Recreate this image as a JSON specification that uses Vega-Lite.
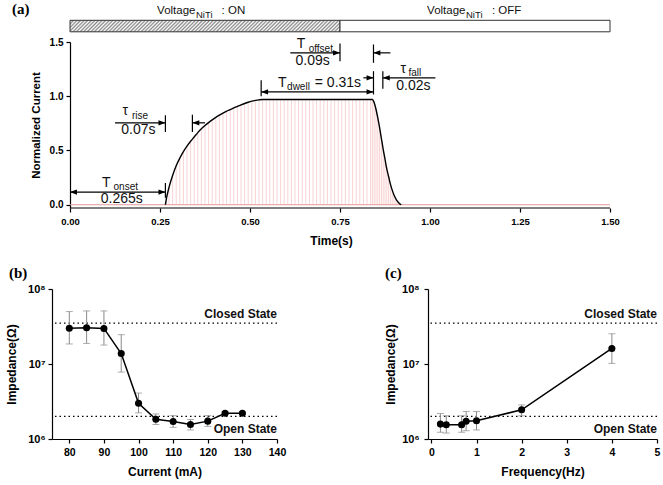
{
  "$schema": "https://vega.github.io/schema/vega-lite/v6.json",
  "padding": {"left": 5, "top": 2, "right": 5, "bottom": 5},
  "background": "white",
  "bounds": "flush",
  "spacing": 81,
  "config": {
    "view": {"stroke": null},
    "font": "Liberation Sans",
    "axis": {"grid": false, "domainColor": "#000", "tickColor": "#000", "labelColor": "#000", "titleColor": "#000", "labelFontWeight": "bold", "titleFontWeight": "bold", "tickSize": 4, "domainWidth": 1.2, "tickWidth": 1.2, "labelFont": "Liberation Sans", "titleFont": "Liberation Sans", "labelFlush": false, "labelOverlap": false},
    "title": {"font": "Liberation Serif", "fontSize": 15, "fontWeight": "bold", "color": "#000", "anchor": "start", "frame": "group"}
  },
  "datasets": {
    "bars": [{"state": "ON", "x0": 0, "x1": 0.75}, {"state": "OFF", "x0": 0.75, "x1": 1.5}],
    "volt": [
      {"x": 0.242, "y": 1.788, "text": "Voltage", "role": "label"},
      {"x": 0.35, "y": 1.752, "text": "NiTi", "role": "sub"},
      {"x": 0.421, "y": 1.788, "text": ": ON", "role": "label"},
      {"x": 0.992, "y": 1.788, "text": "Voltage", "role": "label"},
      {"x": 1.1, "y": 1.752, "text": "NiTi", "role": "sub"},
      {"x": 1.172, "y": 1.788, "text": ": OFF", "role": "label"}
    ],
    "curve": [
      {"t": 0.265, "v": 0}, {"t": 0.268, "v": 0.06}, {"t": 0.275, "v": 0.16}, {"t": 0.285, "v": 0.27}, {"t": 0.295, "v": 0.36},
      {"t": 0.305, "v": 0.43}, {"t": 0.315, "v": 0.49}, {"t": 0.325, "v": 0.54}, {"t": 0.335, "v": 0.585}, {"t": 0.345, "v": 0.625},
      {"t": 0.355, "v": 0.665}, {"t": 0.365, "v": 0.7}, {"t": 0.375, "v": 0.73}, {"t": 0.385, "v": 0.757}, {"t": 0.395, "v": 0.782},
      {"t": 0.405, "v": 0.805}, {"t": 0.415, "v": 0.826}, {"t": 0.425, "v": 0.845}, {"t": 0.435, "v": 0.862}, {"t": 0.445, "v": 0.877},
      {"t": 0.455, "v": 0.892}, {"t": 0.465, "v": 0.906}, {"t": 0.475, "v": 0.92}, {"t": 0.485, "v": 0.933}, {"t": 0.495, "v": 0.945},
      {"t": 0.505, "v": 0.955}, {"t": 0.515, "v": 0.962}, {"t": 0.525, "v": 0.967}, {"t": 0.535, "v": 0.97}, {"t": 0.545, "v": 0.97},
      {"t": 0.555, "v": 0.97}, {"t": 0.565, "v": 0.97}, {"t": 0.575, "v": 0.97}, {"t": 0.585, "v": 0.97}, {"t": 0.595, "v": 0.97},
      {"t": 0.605, "v": 0.97}, {"t": 0.615, "v": 0.97}, {"t": 0.625, "v": 0.97}, {"t": 0.635, "v": 0.97}, {"t": 0.645, "v": 0.97},
      {"t": 0.655, "v": 0.97}, {"t": 0.665, "v": 0.97}, {"t": 0.675, "v": 0.97}, {"t": 0.685, "v": 0.97}, {"t": 0.695, "v": 0.97},
      {"t": 0.705, "v": 0.97}, {"t": 0.715, "v": 0.97}, {"t": 0.725, "v": 0.97}, {"t": 0.735, "v": 0.97}, {"t": 0.745, "v": 0.97},
      {"t": 0.755, "v": 0.97}, {"t": 0.765, "v": 0.97}, {"t": 0.775, "v": 0.97}, {"t": 0.785, "v": 0.97}, {"t": 0.795, "v": 0.97},
      {"t": 0.805, "v": 0.97}, {"t": 0.815, "v": 0.97}, {"t": 0.825, "v": 0.97}, {"t": 0.835, "v": 0.97}, {"t": 0.84, "v": 0.97},
      {"t": 0.845, "v": 0.94}, {"t": 0.85, "v": 0.88}, {"t": 0.855, "v": 0.8}, {"t": 0.86, "v": 0.71}, {"t": 0.865, "v": 0.61},
      {"t": 0.87, "v": 0.51}, {"t": 0.875, "v": 0.42}, {"t": 0.88, "v": 0.33}, {"t": 0.885, "v": 0.26}, {"t": 0.89, "v": 0.19},
      {"t": 0.895, "v": 0.135}, {"t": 0.9, "v": 0.09}, {"t": 0.905, "v": 0.055}, {"t": 0.91, "v": 0.03}, {"t": 0.915, "v": 0.012},
      {"t": 0.92, "v": 0}
    ],
    "segs": [
      {"x": 0, "x2": 0.265, "y": 0.117, "y2": 0.117},
      {"x": 0.265, "x2": 0.265, "y": 0.065, "y2": 0.2},
      {"x": 0.125, "x2": 0.265, "y": 0.755, "y2": 0.755},
      {"x": 0.265, "x2": 0.265, "y": 0.67, "y2": 0.825},
      {"x": 0.34, "x2": 0.34, "y": 0.67, "y2": 0.83},
      {"x": 0.34, "x2": 0.375, "y": 0.755, "y2": 0.755},
      {"x": 0.531, "x2": 0.531, "y": 1.0, "y2": 1.148},
      {"x": 0.531, "x2": 0.843, "y": 1.04, "y2": 1.04},
      {"x": 0.843, "x2": 0.843, "y": 1.016, "y2": 1.231},
      {"x": 0.815, "x2": 0.843, "y": 1.17, "y2": 1.17},
      {"x": 0.869, "x2": 0.869, "y": 1.068, "y2": 1.231},
      {"x": 0.869, "x2": 1.015, "y": 1.17, "y2": 1.17},
      {"x": 0.75, "x2": 0.75, "y": 1.323, "y2": 1.487},
      {"x": 0.612, "x2": 0.75, "y": 1.4, "y2": 1.4},
      {"x": 0.843, "x2": 0.843, "y": 1.308, "y2": 1.477},
      {"x": 0.843, "x2": 0.89, "y": 1.4, "y2": 1.4}
    ],
    "heads": [
      {"x": 0.0095, "y": 0.117, "dir": "left"}, {"x": 0.2555, "y": 0.117, "dir": "right"},
      {"x": 0.2555, "y": 0.755, "dir": "right"}, {"x": 0.3495, "y": 0.755, "dir": "left"},
      {"x": 0.5405, "y": 1.04, "dir": "left"}, {"x": 0.8335, "y": 1.04, "dir": "right"},
      {"x": 0.8335, "y": 1.17, "dir": "right"}, {"x": 0.8785, "y": 1.17, "dir": "left"},
      {"x": 0.7405, "y": 1.4, "dir": "right"}, {"x": 0.8525, "y": 1.4, "dir": "left"}
    ],
    "ann": [
      {"x": 0.089, "y": 0.2, "text": "T", "role": "label"},
      {"x": 0.121, "y": 0.165, "text": "onset", "role": "sub"},
      {"x": 0.144, "y": 0.053, "text": "0.265s", "role": "value"},
      {"x": 0.146, "y": 0.86, "text": "τ", "role": "label"},
      {"x": 0.172, "y": 0.815, "text": "rise", "role": "sub"},
      {"x": 0.19, "y": 0.693, "text": "0.07s", "role": "value"},
      {"x": 0.578, "y": 1.124, "text": "T", "role": "label"},
      {"x": 0.603, "y": 1.087, "text": "dwell", "role": "sub"},
      {"x": 0.68, "y": 1.124, "text": "= 0.31s", "role": "label"},
      {"x": 0.63, "y": 1.477, "text": "T", "role": "label"},
      {"x": 0.663, "y": 1.435, "text": "offset", "role": "sub"},
      {"x": 0.674, "y": 1.323, "text": "0.09s", "role": "value"},
      {"x": 0.918, "y": 1.253, "text": "τ", "role": "label"},
      {"x": 0.94, "y": 1.215, "text": "fall", "role": "sub"},
      {"x": 0.954, "y": 1.092, "text": "0.02s", "role": "value"}
    ],
    "states": [{"state": "Closed State", "imp": 35000000}, {"state": "Open State", "imp": 2000000}],
    "cur": [
      {"current": 80, "imp": 30000000, "lo": 18500000, "hi": 50000000},
      {"current": 85, "imp": 30500000, "lo": 18800000, "hi": 51000000},
      {"current": 90, "imp": 29800000, "lo": 17900000, "hi": 51000000},
      {"current": 95, "imp": 13800000, "lo": 7800000, "hi": 24600000},
      {"current": 100, "imp": 3000000, "lo": 2230000, "hi": 4100000},
      {"current": 105, "imp": 1830000, "lo": 1560000, "hi": 2160000},
      {"current": 110, "imp": 1710000, "lo": 1430000, "hi": 2050000},
      {"current": 115, "imp": 1560000, "lo": 1320000, "hi": 1820000},
      {"current": 120, "imp": 1730000, "lo": 1470000, "hi": 2050000},
      {"current": 125, "imp": 2200000, "lo": 2120000, "hi": 2320000},
      {"current": 130, "imp": 2200000, "lo": 2120000, "hi": 2300000}
    ],
    "freq": [
      {"freq": 0.2, "imp": 1580000, "lo": 1230000, "hi": 2190000},
      {"freq": 0.33, "imp": 1550000, "lo": 1200000, "hi": 2040000},
      {"freq": 0.67, "imp": 1550000, "lo": 1230000, "hi": 2040000},
      {"freq": 0.77, "imp": 1720000, "lo": 1290000, "hi": 2330000},
      {"freq": 1, "imp": 1750000, "lo": 1320000, "hi": 2330000},
      {"freq": 2, "imp": 2450000, "lo": 2040000, "hi": 2850000},
      {"freq": 4, "imp": 16100000, "lo": 10200000, "hi": 25300000}
    ]
  },
  "vconcat": [
    {
      "width": 558,
      "height": 166,
      "title": {"text": "(a)", "dx": -40, "dy": 12.5, "offset": 0},
      "layer": [
        {
          "data": {"name": "curve"},
          "mark": {"type": "rule", "color": "#f2b0b0", "strokeWidth": 0.8, "opacity": 0.7},
          "encoding": {
            "x": {"field": "t", "type": "quantitative", "scale": {"domain": [-0.05, 1.5], "nice": false, "zero": false},
              "axis": {"values": [0, 0.25, 0.5, 0.75, 1, 1.25, 1.5], "format": ".2f", "title": "Time(s)", "domain": false, "labelFontSize": 9.5, "titleFontSize": 12, "labelPadding": 4, "titlePadding": 10}},
            "y": {"field": "v", "type": "quantitative", "scale": {"domain": [-0.03, 1.5], "nice": false, "zero": false},
              "axis": {"values": [0, 0.5, 1, 1.5], "format": ".1f", "offset": -18, "title": "Normalized Current", "labelFontSize": 10, "titleFontSize": 11.5, "labelPadding": 3, "titlePadding": 8}},
            "y2": {"datum": 0}
          }
        },
        {
          "data": {"name": "bars"},
          "transform": [{"filter": "datum.state === 'ON'"}],
          "mark": {"type": "rect", "stroke": "#333", "strokeWidth": 1,
            "fill": {"gradient": "linear", "x1": 0, "y1": 0, "x2": 1.06, "y2": 0.045, "stops": [
              {"offset": 0, "color": "#888"}, {"offset": 0.00625, "color": "#fff"}, {"offset": 0.0125, "color": "#888"}, {"offset": 0.01875, "color": "#fff"},
              {"offset": 0.025, "color": "#888"}, {"offset": 0.03125, "color": "#fff"}, {"offset": 0.0375, "color": "#888"}, {"offset": 0.04375, "color": "#fff"},
              {"offset": 0.05, "color": "#888"}, {"offset": 0.05625, "color": "#fff"}, {"offset": 0.0625, "color": "#888"}, {"offset": 0.06875, "color": "#fff"},
              {"offset": 0.075, "color": "#888"}, {"offset": 0.08125, "color": "#fff"}, {"offset": 0.0875, "color": "#888"}, {"offset": 0.09375, "color": "#fff"},
              {"offset": 0.1, "color": "#888"}, {"offset": 0.10625, "color": "#fff"}, {"offset": 0.1125, "color": "#888"}, {"offset": 0.11875, "color": "#fff"},
              {"offset": 0.125, "color": "#888"}, {"offset": 0.13125, "color": "#fff"}, {"offset": 0.1375, "color": "#888"}, {"offset": 0.14375, "color": "#fff"},
              {"offset": 0.15, "color": "#888"}, {"offset": 0.15625, "color": "#fff"}, {"offset": 0.1625, "color": "#888"}, {"offset": 0.16875, "color": "#fff"},
              {"offset": 0.175, "color": "#888"}, {"offset": 0.18125, "color": "#fff"}, {"offset": 0.1875, "color": "#888"}, {"offset": 0.19375, "color": "#fff"},
              {"offset": 0.2, "color": "#888"}, {"offset": 0.20625, "color": "#fff"}, {"offset": 0.2125, "color": "#888"}, {"offset": 0.21875, "color": "#fff"},
              {"offset": 0.225, "color": "#888"}, {"offset": 0.23125, "color": "#fff"}, {"offset": 0.2375, "color": "#888"}, {"offset": 0.24375, "color": "#fff"},
              {"offset": 0.25, "color": "#888"}, {"offset": 0.25625, "color": "#fff"}, {"offset": 0.2625, "color": "#888"}, {"offset": 0.26875, "color": "#fff"},
              {"offset": 0.275, "color": "#888"}, {"offset": 0.28125, "color": "#fff"}, {"offset": 0.2875, "color": "#888"}, {"offset": 0.29375, "color": "#fff"},
              {"offset": 0.3, "color": "#888"}, {"offset": 0.30625, "color": "#fff"}, {"offset": 0.3125, "color": "#888"}, {"offset": 0.31875, "color": "#fff"},
              {"offset": 0.325, "color": "#888"}, {"offset": 0.33125, "color": "#fff"}, {"offset": 0.3375, "color": "#888"}, {"offset": 0.34375, "color": "#fff"},
              {"offset": 0.35, "color": "#888"}, {"offset": 0.35625, "color": "#fff"}, {"offset": 0.3625, "color": "#888"}, {"offset": 0.36875, "color": "#fff"},
              {"offset": 0.375, "color": "#888"}, {"offset": 0.38125, "color": "#fff"}, {"offset": 0.3875, "color": "#888"}, {"offset": 0.39375, "color": "#fff"},
              {"offset": 0.4, "color": "#888"}, {"offset": 0.40625, "color": "#fff"}, {"offset": 0.4125, "color": "#888"}, {"offset": 0.41875, "color": "#fff"},
              {"offset": 0.425, "color": "#888"}, {"offset": 0.43125, "color": "#fff"}, {"offset": 0.4375, "color": "#888"}, {"offset": 0.44375, "color": "#fff"},
              {"offset": 0.45, "color": "#888"}, {"offset": 0.45625, "color": "#fff"}, {"offset": 0.4625, "color": "#888"}, {"offset": 0.46875, "color": "#fff"},
              {"offset": 0.475, "color": "#888"}, {"offset": 0.48125, "color": "#fff"}, {"offset": 0.4875, "color": "#888"}, {"offset": 0.49375, "color": "#fff"},
              {"offset": 0.5, "color": "#888"}, {"offset": 0.50625, "color": "#fff"}, {"offset": 0.5125, "color": "#888"}, {"offset": 0.51875, "color": "#fff"},
              {"offset": 0.525, "color": "#888"}, {"offset": 0.53125, "color": "#fff"}, {"offset": 0.5375, "color": "#888"}, {"offset": 0.54375, "color": "#fff"},
              {"offset": 0.55, "color": "#888"}, {"offset": 0.55625, "color": "#fff"}, {"offset": 0.5625, "color": "#888"}, {"offset": 0.56875, "color": "#fff"},
              {"offset": 0.575, "color": "#888"}, {"offset": 0.58125, "color": "#fff"}, {"offset": 0.5875, "color": "#888"}, {"offset": 0.59375, "color": "#fff"},
              {"offset": 0.6, "color": "#888"}, {"offset": 0.60625, "color": "#fff"}, {"offset": 0.6125, "color": "#888"}, {"offset": 0.61875, "color": "#fff"},
              {"offset": 0.625, "color": "#888"}, {"offset": 0.63125, "color": "#fff"}, {"offset": 0.6375, "color": "#888"}, {"offset": 0.64375, "color": "#fff"},
              {"offset": 0.65, "color": "#888"}, {"offset": 0.65625, "color": "#fff"}, {"offset": 0.6625, "color": "#888"}, {"offset": 0.66875, "color": "#fff"},
              {"offset": 0.675, "color": "#888"}, {"offset": 0.68125, "color": "#fff"}, {"offset": 0.6875, "color": "#888"}, {"offset": 0.69375, "color": "#fff"},
              {"offset": 0.7, "color": "#888"}, {"offset": 0.70625, "color": "#fff"}, {"offset": 0.7125, "color": "#888"}, {"offset": 0.71875, "color": "#fff"},
              {"offset": 0.725, "color": "#888"}, {"offset": 0.73125, "color": "#fff"}, {"offset": 0.7375, "color": "#888"}, {"offset": 0.74375, "color": "#fff"},
              {"offset": 0.75, "color": "#888"}, {"offset": 0.75625, "color": "#fff"}, {"offset": 0.7625, "color": "#888"}, {"offset": 0.76875, "color": "#fff"},
              {"offset": 0.775, "color": "#888"}, {"offset": 0.78125, "color": "#fff"}, {"offset": 0.7875, "color": "#888"}, {"offset": 0.79375, "color": "#fff"},
              {"offset": 0.8, "color": "#888"}, {"offset": 0.80625, "color": "#fff"}, {"offset": 0.8125, "color": "#888"}, {"offset": 0.81875, "color": "#fff"},
              {"offset": 0.825, "color": "#888"}, {"offset": 0.83125, "color": "#fff"}, {"offset": 0.8375, "color": "#888"}, {"offset": 0.84375, "color": "#fff"},
              {"offset": 0.85, "color": "#888"}, {"offset": 0.85625, "color": "#fff"}, {"offset": 0.8625, "color": "#888"}, {"offset": 0.86875, "color": "#fff"},
              {"offset": 0.875, "color": "#888"}, {"offset": 0.88125, "color": "#fff"}, {"offset": 0.8875, "color": "#888"}, {"offset": 0.89375, "color": "#fff"},
              {"offset": 0.9, "color": "#888"}, {"offset": 0.90625, "color": "#fff"}, {"offset": 0.9125, "color": "#888"}, {"offset": 0.91875, "color": "#fff"},
              {"offset": 0.925, "color": "#888"}, {"offset": 0.93125, "color": "#fff"}, {"offset": 0.9375, "color": "#888"}, {"offset": 0.94375, "color": "#fff"},
              {"offset": 0.95, "color": "#888"}, {"offset": 0.95625, "color": "#fff"}, {"offset": 0.9625, "color": "#888"}, {"offset": 0.96875, "color": "#fff"},
              {"offset": 0.975, "color": "#888"}, {"offset": 0.98125, "color": "#fff"}, {"offset": 0.9875, "color": "#888"}, {"offset": 0.99375, "color": "#fff"},
              {"offset": 1, "color": "#888"}
            ]}},
          "encoding": {
            "x": {"field": "x0", "type": "quantitative"},
            "x2": {"field": "x1"},
            "y": {"datum": 1.594, "type": "quantitative"},
            "y2": {"datum": 1.7}
          }
        },
        {
          "data": {"name": "bars"},
          "transform": [{"filter": "datum.state === 'OFF'"}],
          "mark": {"type": "rect", "stroke": "#333", "strokeWidth": 1, "fill": "#fff"},
          "encoding": {
            "x": {"field": "x0", "type": "quantitative"},
            "x2": {"field": "x1"},
            "y": {"datum": 1.594, "type": "quantitative"},
            "y2": {"datum": 1.7}
          }
        },
        {
          "data": {"name": "volt"},
          "transform": [{"filter": "datum.role === 'label'"}],
          "mark": {"type": "text", "fontSize": 11.5, "align": "left", "baseline": "middle", "color": "#111"},
          "encoding": {
            "x": {"field": "x", "type": "quantitative"},
            "y": {"field": "y", "type": "quantitative"},
            "text": {"field": "text"}
          }
        },
        {
          "data": {"name": "volt"},
          "transform": [{"filter": "datum.role === 'sub'"}],
          "mark": {"type": "text", "fontSize": 9.5, "align": "left", "baseline": "middle", "color": "#111"},
          "encoding": {
            "x": {"field": "x", "type": "quantitative"},
            "y": {"field": "y", "type": "quantitative"},
            "text": {"field": "text"}
          }
        },
        {
          "data": {"values": [{"baseline": 0}]},
          "mark": {"type": "rule", "color": "#e39a9a", "strokeWidth": 1},
          "encoding": {
            "x": {"datum": 0, "type": "quantitative"},
            "x2": {"datum": 1.5},
            "y": {"datum": 0, "type": "quantitative"}
          }
        },
        {
          "data": {"values": [{"axisline": 0}]},
          "mark": {"type": "rule", "color": "#000", "strokeWidth": 1.2},
          "encoding": {
            "x": {"datum": 0, "type": "quantitative"},
            "x2": {"datum": 1.5},
            "y": {"datum": -0.03, "type": "quantitative"}
          }
        },
        {
          "data": {"name": "curve"},
          "mark": {"type": "line", "color": "#000", "strokeWidth": 1.4, "interpolate": "monotone"},
          "encoding": {
            "x": {"field": "t", "type": "quantitative"},
            "y": {"field": "v", "type": "quantitative"}
          }
        },
        {
          "data": {"name": "segs"},
          "mark": {"type": "rule", "color": "#000", "strokeWidth": 1.2},
          "encoding": {
            "x": {"field": "x", "type": "quantitative"},
            "x2": {"field": "x2"},
            "y": {"field": "y", "type": "quantitative"},
            "y2": {"field": "y2"}
          }
        },
        {
          "data": {"name": "heads"},
          "mark": {"type": "point", "filled": true, "color": "#000", "size": 49, "opacity": 1},
          "encoding": {
            "x": {"field": "x", "type": "quantitative"},
            "y": {"field": "y", "type": "quantitative"},
            "shape": {"field": "dir", "type": "nominal", "scale": {"domain": ["left", "right"], "range": ["M1,-0.75L-1,0L1,0.75Z", "M-1,-0.75L1,0L-1,0.75Z"]}, "legend": null}
          }
        },
        {
          "data": {"name": "ann"},
          "transform": [{"filter": "datum.role === 'label'"}],
          "mark": {"type": "text", "fontSize": 14, "align": "left", "baseline": "middle", "color": "#111"},
          "encoding": {
            "x": {"field": "x", "type": "quantitative"},
            "y": {"field": "y", "type": "quantitative"},
            "text": {"field": "text"}
          }
        },
        {
          "data": {"name": "ann"},
          "transform": [{"filter": "datum.role === 'sub'"}],
          "mark": {"type": "text", "fontSize": 10, "align": "left", "baseline": "middle", "color": "#111"},
          "encoding": {
            "x": {"field": "x", "type": "quantitative"},
            "y": {"field": "y", "type": "quantitative"},
            "text": {"field": "text"}
          }
        },
        {
          "data": {"name": "ann"},
          "transform": [{"filter": "datum.role === 'value'"}],
          "mark": {"type": "text", "fontSize": 14, "align": "center", "baseline": "middle", "color": "#111"},
          "encoding": {
            "x": {"field": "x", "type": "quantitative"},
            "y": {"field": "y", "type": "quantitative"},
            "text": {"field": "text"}
          }
        }
      ]
    },
    {
      "bounds": "flush",
      "spacing": 151,
      "hconcat": [
        {
          "width": 225,
          "height": 150,
          "title": {"text": "(b)", "dx": -43, "offset": 2},
          "layer": [
            {
              "data": {"name": "states"},
              "mark": {"type": "rule", "color": "#000", "strokeWidth": 1.3, "strokeDash": [1.5, 3]},
              "encoding": {
                "y": {"field": "imp", "type": "quantitative", "scale": {"type": "log", "domain": [1000000, 100000000], "nice": false},
                  "axis": {"values": [1000000, 10000000, 100000000], "labelExpr": "datum.value >= 50000000 ? '10⁸' : datum.value >= 5000000 ? '10⁷' : '10⁶'", "title": "Impedance(Ω)", "titleFontSize": 12, "labelFontSize": 11, "labelPadding": 3, "titlePadding": 9}}
              }
            },
            {
              "data": {"name": "states"},
              "transform": [{"filter": "datum.state === 'Closed State'"}],
              "mark": {"type": "text", "fontSize": 12, "fontWeight": "bold", "align": "right", "baseline": "middle", "dy": -9, "color": "#111"},
              "encoding": {
                "x": {"datum": 140, "type": "quantitative", "scale": {"domain": [75, 140], "nice": false, "zero": false},
                  "axis": {"values": [80, 90, 100, 110, 120, 130, 140], "labelOverlap": false, "title": "Current (mA)", "titleFontSize": 12, "labelFontSize": 10.5, "labelPadding": 4, "titlePadding": 9}},
                "y": {"field": "imp", "type": "quantitative"},
                "text": {"field": "state"}
              }
            },
            {
              "data": {"name": "states"},
              "transform": [{"filter": "datum.state === 'Open State'"}],
              "mark": {"type": "text", "fontSize": 12, "fontWeight": "bold", "align": "right", "baseline": "middle", "dy": 12.5, "color": "#111"},
              "encoding": {
                "x": {"datum": 140, "type": "quantitative", "scale": {"domain": [75, 140], "nice": false, "zero": false},
                  "axis": {"values": [80, 90, 100, 110, 120, 130, 140], "labelOverlap": false, "title": "Current (mA)", "titleFontSize": 12, "labelFontSize": 10.5, "labelPadding": 4, "titlePadding": 9}},
                "y": {"field": "imp", "type": "quantitative"},
                "text": {"field": "state"}
              }
            },
            {
              "data": {"name": "cur"},
              "mark": {"type": "rule", "color": "#8a8a8a", "strokeWidth": 1},
              "encoding": {
                "x": {"field": "current", "type": "quantitative", "scale": {"domain": [75, 140], "nice": false, "zero": false},
                  "axis": {"values": [80, 90, 100, 110, 120, 130, 140], "labelOverlap": false, "title": "Current (mA)", "titleFontSize": 12, "labelFontSize": 10.5, "labelPadding": 4, "titlePadding": 9}},
                "y": {"field": "lo", "type": "quantitative"},
                "y2": {"field": "hi"}
              }
            },
            {
              "data": {"name": "cur"},
              "mark": {"type": "tick", "orient": "horizontal", "size": 7, "thickness": 1, "color": "#8a8a8a"},
              "encoding": {
                "x": {"field": "current", "type": "quantitative", "scale": {"domain": [75, 140], "nice": false, "zero": false},
                  "axis": {"values": [80, 90, 100, 110, 120, 130, 140], "labelOverlap": false, "title": "Current (mA)", "titleFontSize": 12, "labelFontSize": 10.5, "labelPadding": 4, "titlePadding": 9}},
                "y": {"field": "lo", "type": "quantitative"}
              }
            },
            {
              "data": {"name": "cur"},
              "mark": {"type": "tick", "orient": "horizontal", "size": 7, "thickness": 1, "color": "#8a8a8a"},
              "encoding": {
                "x": {"field": "current", "type": "quantitative", "scale": {"domain": [75, 140], "nice": false, "zero": false},
                  "axis": {"values": [80, 90, 100, 110, 120, 130, 140], "labelOverlap": false, "title": "Current (mA)", "titleFontSize": 12, "labelFontSize": 10.5, "labelPadding": 4, "titlePadding": 9}},
                "y": {"field": "hi", "type": "quantitative"}
              }
            },
            {
              "data": {"name": "cur"},
              "mark": {"type": "line", "color": "#000", "strokeWidth": 1.5},
              "encoding": {
                "x": {"field": "current", "type": "quantitative", "scale": {"domain": [75, 140], "nice": false, "zero": false},
                  "axis": {"values": [80, 90, 100, 110, 120, 130, 140], "labelOverlap": false, "title": "Current (mA)", "titleFontSize": 12, "labelFontSize": 10.5, "labelPadding": 4, "titlePadding": 9}},
                "y": {"field": "imp", "type": "quantitative"}
              }
            },
            {
              "data": {"name": "cur"},
              "mark": {"type": "point", "filled": true, "color": "#000", "size": 50, "opacity": 1},
              "encoding": {
                "x": {"field": "current", "type": "quantitative", "scale": {"domain": [75, 140], "nice": false, "zero": false},
                  "axis": {"values": [80, 90, 100, 110, 120, 130, 140], "labelOverlap": false, "title": "Current (mA)", "titleFontSize": 12, "labelFontSize": 10.5, "labelPadding": 4, "titlePadding": 9}},
                "y": {"field": "imp", "type": "quantitative"}
              }
            }
          ]
        },
        {
          "width": 229,
          "height": 150,
          "title": {"text": "(c)", "dx": -43, "offset": 2},
          "layer": [
            {
              "data": {"name": "states"},
              "mark": {"type": "rule", "color": "#000", "strokeWidth": 1.3, "strokeDash": [1.5, 3]},
              "encoding": {
                "y": {"field": "imp", "type": "quantitative", "scale": {"type": "log", "domain": [1000000, 100000000], "nice": false},
                  "axis": {"values": [1000000, 10000000, 100000000], "labelExpr": "datum.value >= 50000000 ? '10⁸' : datum.value >= 5000000 ? '10⁷' : '10⁶'", "title": "Impedance(Ω)", "titleFontSize": 12, "labelFontSize": 11, "labelPadding": 5, "titlePadding": 4}}
              }
            },
            {
              "data": {"name": "states"},
              "transform": [{"filter": "datum.state === 'Closed State'"}],
              "mark": {"type": "text", "fontSize": 12, "fontWeight": "bold", "align": "right", "baseline": "middle", "dy": -9, "color": "#111"},
              "encoding": {
                "x": {"datum": 5, "type": "quantitative", "scale": {"domain": [-0.075, 5], "nice": false, "zero": false},
                  "axis": {"values": [0, 1, 2, 3, 4, 5], "title": "Frequency(Hz)", "titleFontSize": 12, "labelFontSize": 10.5, "labelPadding": 4, "titlePadding": 9}},
                "y": {"field": "imp", "type": "quantitative"},
                "text": {"field": "state"}
              }
            },
            {
              "data": {"name": "states"},
              "transform": [{"filter": "datum.state === 'Open State'"}],
              "mark": {"type": "text", "fontSize": 12, "fontWeight": "bold", "align": "right", "baseline": "middle", "dy": 13, "color": "#111"},
              "encoding": {
                "x": {"datum": 5, "type": "quantitative", "scale": {"domain": [-0.075, 5], "nice": false, "zero": false},
                  "axis": {"values": [0, 1, 2, 3, 4, 5], "title": "Frequency(Hz)", "titleFontSize": 12, "labelFontSize": 10.5, "labelPadding": 4, "titlePadding": 9}},
                "y": {"field": "imp", "type": "quantitative"},
                "text": {"field": "state"}
              }
            },
            {
              "data": {"name": "freq"},
              "mark": {"type": "rule", "color": "#8a8a8a", "strokeWidth": 1},
              "encoding": {
                "x": {"field": "freq", "type": "quantitative", "scale": {"domain": [-0.075, 5], "nice": false, "zero": false},
                  "axis": {"values": [0, 1, 2, 3, 4, 5], "title": "Frequency(Hz)", "titleFontSize": 12, "labelFontSize": 10.5, "labelPadding": 4, "titlePadding": 9}},
                "y": {"field": "lo", "type": "quantitative"},
                "y2": {"field": "hi"}
              }
            },
            {
              "data": {"name": "freq"},
              "mark": {"type": "tick", "orient": "horizontal", "size": 7, "thickness": 1, "color": "#8a8a8a"},
              "encoding": {
                "x": {"field": "freq", "type": "quantitative", "scale": {"domain": [-0.075, 5], "nice": false, "zero": false},
                  "axis": {"values": [0, 1, 2, 3, 4, 5], "title": "Frequency(Hz)", "titleFontSize": 12, "labelFontSize": 10.5, "labelPadding": 4, "titlePadding": 9}},
                "y": {"field": "lo", "type": "quantitative"}
              }
            },
            {
              "data": {"name": "freq"},
              "mark": {"type": "tick", "orient": "horizontal", "size": 7, "thickness": 1, "color": "#8a8a8a"},
              "encoding": {
                "x": {"field": "freq", "type": "quantitative", "scale": {"domain": [-0.075, 5], "nice": false, "zero": false},
                  "axis": {"values": [0, 1, 2, 3, 4, 5], "title": "Frequency(Hz)", "titleFontSize": 12, "labelFontSize": 10.5, "labelPadding": 4, "titlePadding": 9}},
                "y": {"field": "hi", "type": "quantitative"}
              }
            },
            {
              "data": {"name": "freq"},
              "mark": {"type": "line", "color": "#000", "strokeWidth": 1.5},
              "encoding": {
                "x": {"field": "freq", "type": "quantitative", "scale": {"domain": [-0.075, 5], "nice": false, "zero": false},
                  "axis": {"values": [0, 1, 2, 3, 4, 5], "title": "Frequency(Hz)", "titleFontSize": 12, "labelFontSize": 10.5, "labelPadding": 4, "titlePadding": 9}},
                "y": {"field": "imp", "type": "quantitative"}
              }
            },
            {
              "data": {"name": "freq"},
              "mark": {"type": "point", "filled": true, "color": "#000", "size": 50, "opacity": 1},
              "encoding": {
                "x": {"field": "freq", "type": "quantitative", "scale": {"domain": [-0.075, 5], "nice": false, "zero": false},
                  "axis": {"values": [0, 1, 2, 3, 4, 5], "title": "Frequency(Hz)", "titleFontSize": 12, "labelFontSize": 10.5, "labelPadding": 4, "titlePadding": 9}},
                "y": {"field": "imp", "type": "quantitative"}
              }
            }
          ]
        }
      ]
    }
  ]
}
